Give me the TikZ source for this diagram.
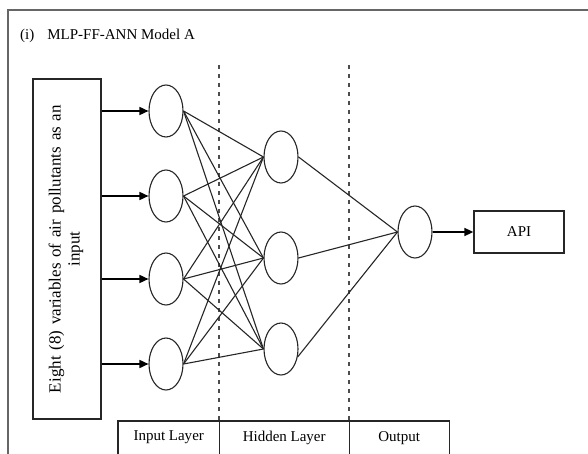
\documentclass[tikz,border=0pt]{standalone}
\usepackage{fontspec}
\setmainfont{Liberation Serif}
\usetikzlibrary{shapes.geometric,arrows.meta}
\begin{document}
\begin{tikzpicture}[x=1pt,y=-1pt,
  neuron/.style={draw=black!85,ellipse,minimum width=34pt,minimum height=52pt,inner sep=0pt,line width=1.1pt},
  conn/.style={draw=black!85,line width=1.1pt},
  feed/.style={draw=black,line width=1.6pt,-{Triangle[length=9pt,width=8pt]}},
  lbl/.style={font=\fontsize{15}{19}\selectfont},
  biglbl/.style={font=\fontsize{17}{19}\selectfont},
  box/.style={draw=black!85,line width=1.3pt,inner sep=0pt},
  divider/.style={draw=black!70,line width=1.1pt,dash pattern=on 4pt off 5pt},
  rule/.style={draw=black!85,line width=1.3pt}]
\useasboundingbox (0,0) rectangle (588,454);
% outer frame
\draw[line width=1.4pt,black!60] (8,455) -- (8,10) -- (589,10);
% title
\node[lbl,anchor=west,inner sep=0pt] (title) at (20,36) {(i)\hspace{13pt}MLP-FF-ANN Model A};
% input box
\node[box,minimum width=68pt,minimum height=340pt] (inbox) at (67,249) {};
\node[biglbl,rotate=90,align=center,inner sep=0pt] (intext) at ([xshift=-1pt]inbox.center)
  {\makebox[288pt][s]{Eight (8) variables of air pollutants as an}\\input};
% neurons
\node[neuron] (i1) at (166,111) {};
\node[neuron] (i2) at (166,196) {};
\node[neuron] (i3) at (166,279) {};
\node[neuron] (i4) at (166,364) {};
\node[neuron] (h1) at (281,157) {};
\node[neuron] (h2) at (281,258) {};
\node[neuron] (h3) at (281,349) {};
\node[neuron] (o) at (415,232) {};
% API box
\node[box,lbl,minimum width=90pt,minimum height=42pt] (api) at (519,232) {API};
% dashed dividers
\coordinate (d1t) at (219,65);
\coordinate (d1b) at (219,421);
\coordinate (d2t) at (349,65);
\coordinate (d2b) at (349,421);
\draw[divider] (d1t) -- (d1b);
\draw[divider] (d2t) -- (d2b);
% input arrows
\foreach \i in {1,...,4} \draw[feed] (inbox.east |- i\i) -- (i\i.west);
% connections
\foreach \i in {1,...,4} \foreach \h in {1,2,3} \draw[conn] (i\i.east) -- (h\h.west);
\draw[conn] (h1.east) -- (o.west);
\draw[conn] (h2.east) -- (o.west);
\draw[conn] (h3.-25) -- (o.west);
\draw[feed] (o.east) -- (api.west);
% bottom table
\node[lbl,minimum width=101pt,minimum height=33pt,inner sep=0pt,anchor=north west] (c1) at (118,421) {Input Layer};
\node[lbl,minimum width=130pt,minimum height=33pt,inner sep=0pt,anchor=north west] (c2) at (219,421) {Hidden Layer};
\node[lbl,minimum width=100pt,minimum height=33pt,inner sep=0pt,anchor=north west] (c3) at (349,421) {Output};
\draw[rule] ([yshift=-2pt]c1.south west) -- (c1.north west) -- (c3.north east) -- ([yshift=-2pt]c3.south east);
\draw[rule] (c1.north east) -- ([yshift=-2pt]c1.south east);
\draw[rule] (c2.north east) -- ([yshift=-2pt]c2.south east);
\end{tikzpicture}
\end{document}
